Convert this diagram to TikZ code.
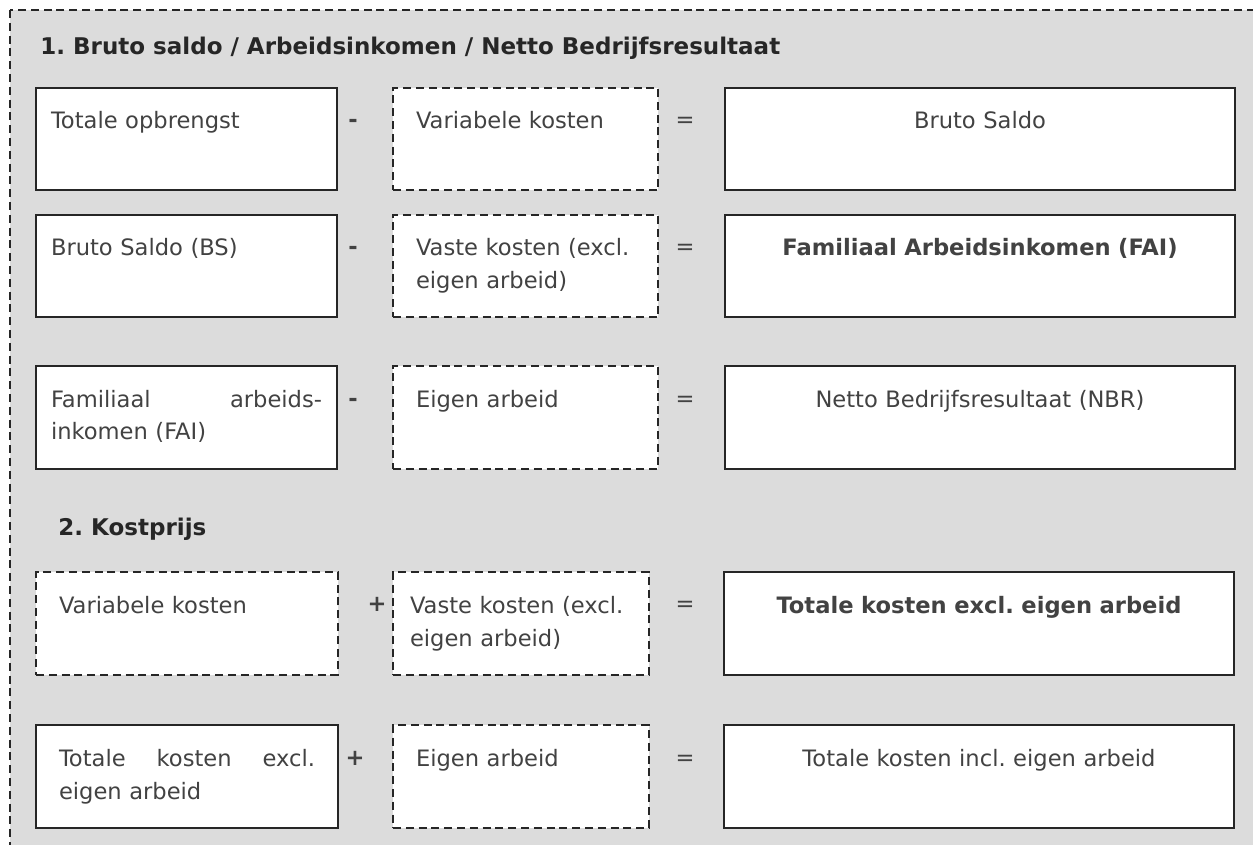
\documentclass[tikz,border=0pt]{standalone}
\usepackage{fontspec}
\setmainfont{DejaVu Sans}
\frenchspacing
\usetikzlibrary{positioning}
\definecolor{panelgray}{RGB}{220,220,220}
\definecolor{inkgray}{RGB}{66,66,66}
\definecolor{framegray}{RGB}{38,38,38}
\tikzset{line cap=butt,line join=miter}
\tikzset{
    sumbox/.style={draw=framegray,line width=1pt,fill=white,anchor=north west,
        inner ysep=0pt,text height=20.5pt,text depth=30.75pt,text=inkgray,
        font=\fontsize{11.3}{16.5}\selectfont},
    dashbox/.style={sumbox,dash pattern=on 4pt off 2.4pt},
    leftcol/.style={text width=135.5pt,inner xsep=7.5pt,align=left},
    leftcolb/.style={text width=128pt,inner xsep=11.5pt,align=left},
    midcol/.style={text width=109.5pt,inner xsep=11.5pt,align=left},
    rightcol/.style={text width=240pt,inner xsep=7.5pt,align=center},
    opsign/.style={anchor=base,text=inkgray,inner sep=0pt,font=\fontsize{11.3}{16.5}\selectfont},
    heading/.style={anchor=base west,inner sep=0pt,text=framegray,font=\fontsize{11.5}{16.5}\selectfont\bfseries},
}

\begin{document}
\begin{tikzpicture}[x=0.5pt,y=-0.5pt]
    \useasboundingbox (0,0) rectangle (1253,845);
    \clip (0,0) rectangle (1253,845);
    \fill[panelgray] (10,10) rectangle (1270,870);
    \draw[framegray,line width=1pt,dash pattern=on 4pt off 2.4pt] (10,10) rectangle (1270,870);

    % 1. Bruto saldo
    \node[heading] (title1) at (40,55) {1. Bruto saldo / Arbeidsinkomen / Netto Bedrijfsresultaat};

    \node[sumbox,leftcol] (opbr) at (35,87) {Totale opbrengst};
    \node[dashbox,midcol] (varA) at (392,87) {Variabele kosten};
    \node[sumbox,rightcol] (bs) at (724,87) {Bruto Saldo};

    \node[sumbox,leftcol] (bsin) at (35,214) {Bruto Saldo (BS)};
    \node[dashbox,midcol] (vasteA) at (392,214) {Vaste kosten (excl.\\eigen arbeid)};
    \node[sumbox,rightcol] (fai) at (724,214) {\bfseries Familiaal Arbeidsinkomen (FAI)};

    \node[sumbox,leftcol] (faiin) at (35,365) {Familiaal \hfill arbeids-\\inkomen (FAI)};
    \node[dashbox,midcol] (eigenA) at (392,365) {Eigen arbeid};
    \node[sumbox,rightcol] (nbr) at (724,365) {Netto Bedrijfsresultaat (NBR)};

    \foreach \r/\y in {1/128,2/255,3/406}
        \node[opsign,font=\fontsize{11.3}{16.5}\selectfont\bfseries] (min\r) at (353,\y) {-};

    % 2. Kostprijs
    \node[heading] (title2) at (58,535) {2. Kostprijs};

    \node[dashbox,leftcolb] (varB) at (35,571) {Variabele kosten};
    \node[dashbox,midcol,text width=111pt,inner xsep=8.5pt] (vasteB) at (392,571) {Vaste kosten (excl.\\eigen arbeid)};
    \node[sumbox,rightcol] (tkex) at (723,571) {\bfseries Totale kosten excl. eigen arbeid};

    \node[sumbox,leftcolb] (tkexin) at (35,724) {Totale \hfill kosten \hfill excl.\\eigen arbeid};
    \node[dashbox,midcol,text width=105pt] (eigenB) at (392,724) {Eigen arbeid};
    \node[sumbox,rightcol] (tkin) at (723,724) {Totale kosten incl. eigen arbeid};

    \node[opsign,font=\fontsize{11.3}{16.5}\selectfont\bfseries] (plus4) at (377,611) {+};
    \node[opsign,font=\fontsize{11.3}{16.5}\selectfont\bfseries] (plus5) at (355,765) {+};

    \foreach \r/\y in {1/128,2/255,3/406,4/611,5/765}
        \node[opsign] (eq\r) at (685,\y) {=};
\end{tikzpicture}
\end{document}
